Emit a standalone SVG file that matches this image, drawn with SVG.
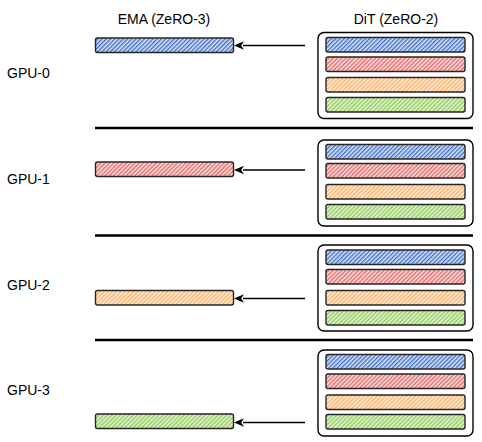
<svg xmlns="http://www.w3.org/2000/svg" width="482" height="442" viewBox="0 0 482 442">
<defs>
<pattern id="hb" width="3" height="3" patternUnits="userSpaceOnUse" patternTransform="rotate(45)"><rect width="3" height="3" fill="#dbe5f8"/><rect width="1.4" height="3" fill="#3f6fcc"/></pattern>
<pattern id="hr" width="3" height="3" patternUnits="userSpaceOnUse" patternTransform="rotate(45)"><rect width="3" height="3" fill="#fbe0e0"/><rect width="1.4" height="3" fill="#e66a6a"/></pattern>
<pattern id="ho" width="3" height="3" patternUnits="userSpaceOnUse" patternTransform="rotate(45)"><rect width="3" height="3" fill="#ffeedd"/><rect width="1.4" height="3" fill="#ffb066"/></pattern>
<pattern id="hg" width="3" height="3" patternUnits="userSpaceOnUse" patternTransform="rotate(45)"><rect width="3" height="3" fill="#e8f5da"/><rect width="1.4" height="3" fill="#8fcb55"/></pattern>
<marker id="ah" viewBox="0 0 10 10" refX="1" refY="5" markerWidth="10" markerHeight="10" markerUnits="userSpaceOnUse" orient="auto-start-reverse"><path d="M10,5 L0,0.8 L2.8,5 L0,9.2 Z" fill="#000"/></marker>
</defs>
<style>
text{font-family:"Liberation Sans",Arial,sans-serif;font-size:14px;fill:#000}
.bar{stroke:#262626;stroke-width:1.4}
.box{fill:#fff;stroke:#000;stroke-width:1.4}
.sep{stroke:#000;stroke-width:2.6}
.arr{stroke:#000;stroke-width:1.4;fill:none}
</style>
<text x="164" y="24" text-anchor="middle">EMA (ZeRO-3)</text>
<text x="396" y="24" text-anchor="middle">DiT (ZeRO-2)</text>
<g id="separators">
<line class="sep" x1="95" y1="128" x2="473" y2="128"/>
<line class="sep" x1="95" y1="235.5" x2="473" y2="235.5"/>
<line class="sep" x1="95" y1="340" x2="473" y2="340"/>
</g>
<g id="gpu0">
<text x="7" y="78">GPU-0</text>
<rect class="bar" x="95.5" y="38" width="138" height="14.5" rx="2" fill="url(#hb)"/>
<rect class="box" x="318" y="32.5" width="155" height="86" rx="6"/>
<rect class="bar" x="326" y="37.5" width="139" height="14.5" rx="2" fill="url(#hb)"/>
<rect class="bar" x="326" y="57" width="139" height="14.5" rx="2" fill="url(#hr)"/>
<rect class="bar" x="326" y="77.5" width="139" height="14.5" rx="2" fill="url(#ho)"/>
<rect class="bar" x="326" y="97.5" width="139" height="14.5" rx="2" fill="url(#hg)"/>
</g>
<g id="gpu1">
<text x="7" y="184">GPU-1</text>
<rect class="bar" x="95.5" y="162" width="138" height="14.5" rx="2" fill="url(#hr)"/>
<rect class="box" x="318" y="140" width="155" height="86" rx="6"/>
<rect class="bar" x="326" y="144.5" width="139" height="14.5" rx="2" fill="url(#hb)"/>
<rect class="bar" x="326" y="163.5" width="139" height="14.5" rx="2" fill="url(#hr)"/>
<rect class="bar" x="326" y="184.5" width="139" height="14.5" rx="2" fill="url(#ho)"/>
<rect class="bar" x="326" y="204.5" width="139" height="14.5" rx="2" fill="url(#hg)"/>
</g>
<g id="gpu2">
<text x="7" y="290">GPU-2</text>
<rect class="bar" x="95.5" y="290.5" width="138" height="14.5" rx="2" fill="url(#ho)"/>
<rect class="box" x="318" y="245" width="155" height="86" rx="6"/>
<rect class="bar" x="326" y="250" width="139" height="14.5" rx="2" fill="url(#hb)"/>
<rect class="bar" x="326" y="269.5" width="139" height="14.5" rx="2" fill="url(#hr)"/>
<rect class="bar" x="326" y="290.5" width="139" height="14.5" rx="2" fill="url(#ho)"/>
<rect class="bar" x="326" y="310.5" width="139" height="14.5" rx="2" fill="url(#hg)"/>
</g>
<g id="gpu3">
<text x="7" y="395">GPU-3</text>
<rect class="bar" x="95.5" y="414" width="138" height="14.5" rx="2" fill="url(#hg)"/>
<rect class="box" x="318" y="350" width="155" height="86" rx="6"/>
<rect class="bar" x="326" y="354.5" width="139" height="14.5" rx="2" fill="url(#hb)"/>
<rect class="bar" x="326" y="374" width="139" height="14.5" rx="2" fill="url(#hr)"/>
<rect class="bar" x="326" y="395" width="139" height="14.5" rx="2" fill="url(#ho)"/>
<rect class="bar" x="326" y="414.5" width="139" height="14.5" rx="2" fill="url(#hg)"/>
</g>
<g id="connectors">
<line class="arr" x1="305" y1="45.5" x2="243" y2="45.5" marker-end="url(#ah)"/>
<line class="arr" x1="305" y1="170" x2="243" y2="170" marker-end="url(#ah)"/>
<line class="arr" x1="305" y1="298.5" x2="243" y2="298.5" marker-end="url(#ah)"/>
<line class="arr" x1="305" y1="422.5" x2="243" y2="422.5" marker-end="url(#ah)"/>
</g>
</svg>
